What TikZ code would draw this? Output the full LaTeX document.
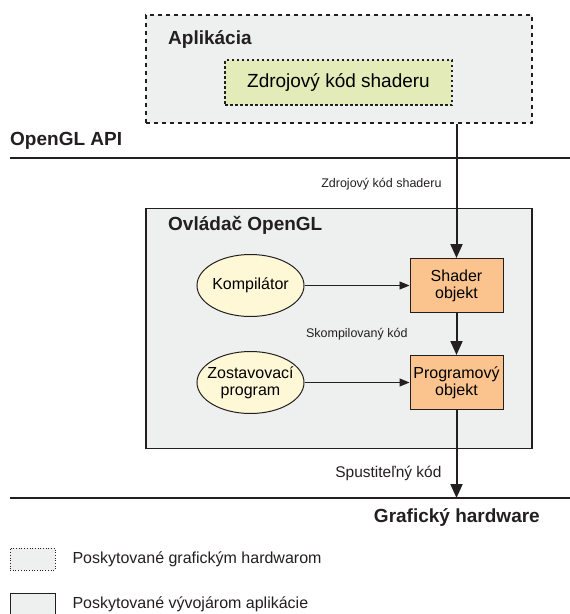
\documentclass[tikz,border=0pt]{standalone}
\usepackage{fontspec}
\setmainfont{Liberation Sans}
\usepackage{tikz}
\usetikzlibrary{positioning, calc}
\usetikzlibrary{shapes, arrows.meta}

\definecolor{panelgray}{HTML}{EEF0EF}
\definecolor{srcgreen}{HTML}{E3EBB9}
\definecolor{objorange}{HTML}{FBC48E}
\definecolor{toolyellow}{HTML}{FEF8D6}
\definecolor{ink}{HTML}{231F20}

\tikzset{
    appbox/.style={draw=ink, fill=panelgray, line width=1.7pt, dash pattern=on 4pt off 4pt,
        minimum width=386pt, minimum height=108pt},
    srcbox/.style={draw=ink, fill=srcgreen, line width=1.3pt, dash pattern=on 2.5pt off 2.5pt,
        minimum width=227pt, minimum height=45pt, font=\fontsize{19}{22}\selectfont},
    drvbox/.style={draw=ink, fill=panelgray, line width=1.5pt,
        minimum width=386pt, minimum height=240pt},
    heading/.style={font=\fontsize{19}{22}\selectfont\bfseries, text=ink, anchor=west, inner sep=0pt},
    tool/.style={ellipse, draw=ink, fill=toolyellow, line width=1pt, minimum width=107pt,
        minimum height=62pt, inner ysep=0pt, inner xsep=-12pt, align=center, font=\fontsize{16}{17}\selectfont},
    obj/.style={draw=ink, fill=objorange, line width=1pt, minimum width=93pt, minimum height=54pt,
        inner sep=0pt, align=center, font=\fontsize{16}{17}\selectfont},
    layer/.style={draw=ink, line width=2pt},
    flow/.style={draw=ink, line width=2pt, -{Triangle[length=14pt, width=12pt]}},
    feed/.style={draw=ink, line width=0.9pt, -{Triangle[length=10pt, width=8pt]}},
    small/.style={font=\fontsize{12.5}{15}\selectfont, text=ink, inner sep=0pt},
    keybox/.style={draw=ink, fill=panelgray, line width=0.7pt, minimum width=45pt, minimum height=22pt},
    legend/.style={font=\fontsize{16}{19}\selectfont, text=ink, anchor=west, inner sep=0pt}
}

\begin{document}
\begin{tikzpicture}[x=1pt, y=1pt]
    \useasboundingbox (0,0) rectangle (570,-614);
    \node (app) [appbox] at (339,-69) {};
    \node (src) [srcbox] at (338.5,-82.5) {Zdrojový kód shaderu};
    \node (appname) [heading] at (168,-39) {Aplikácia};
    \node (drv) [drvbox] at (339,-328.5) {};
    \node (drvname) [heading] at (168,-225) {Ovládač OpenGL};
    \node (shader) [obj] at (456.5,-285.5) {Shader\\objekt};
    \node (prog) [obj, below=42pt of shader] {Programový\\objekt};
    \node (comp) [tool, left=105pt of shader] {Kompilátor};
    \node (link) [tool, left=105pt of prog] {Zostavovací\\program};

    % layers
    \coordinate (apiL) at (10,-158);
    \coordinate (apiR) at (570,-158);
    \coordinate (hwL) at (10,-498);
    \coordinate (hwR) at (570,-498);
    \node (api) [heading] at (10,-141) {OpenGL API};
    \node (hw) [heading, anchor=east] at (540,-517) {Grafický hardware};
    \draw[layer] (apiL) -- (apiR);
    \draw[layer] (hwL) -- (hwR);

    \draw[flow] (app.south -| shader) -- node[small, pos=0.45, left=14pt] {Zdrojový kód shaderu} (shader);
    \draw[flow] (shader) -- node[small, left=48pt] {Skompilovaný kód} (prog);
    \draw[flow] (prog) -- node[small, font=\fontsize{15.5}{18}\selectfont, pos=0.72, left=14pt] {Spustiteľný kód} (prog |- hwL);
    \draw[feed] (comp) -- (shader);
    \draw[feed, line width=1.2pt] (link) -- (prog);

    % legend
    \node (hwkey) [keybox, dotted] at (32.5,-559) {};
    \node (hwtext) [legend, right=17pt of hwkey] {Poskytované grafickým hardwarom};
    \node (devkey) [keybox] at (32.5,-604) {};
    \node (devtext) [legend, right=17pt of devkey] {Poskytované vývojárom aplikácie};
\end{tikzpicture}
\end{document}
